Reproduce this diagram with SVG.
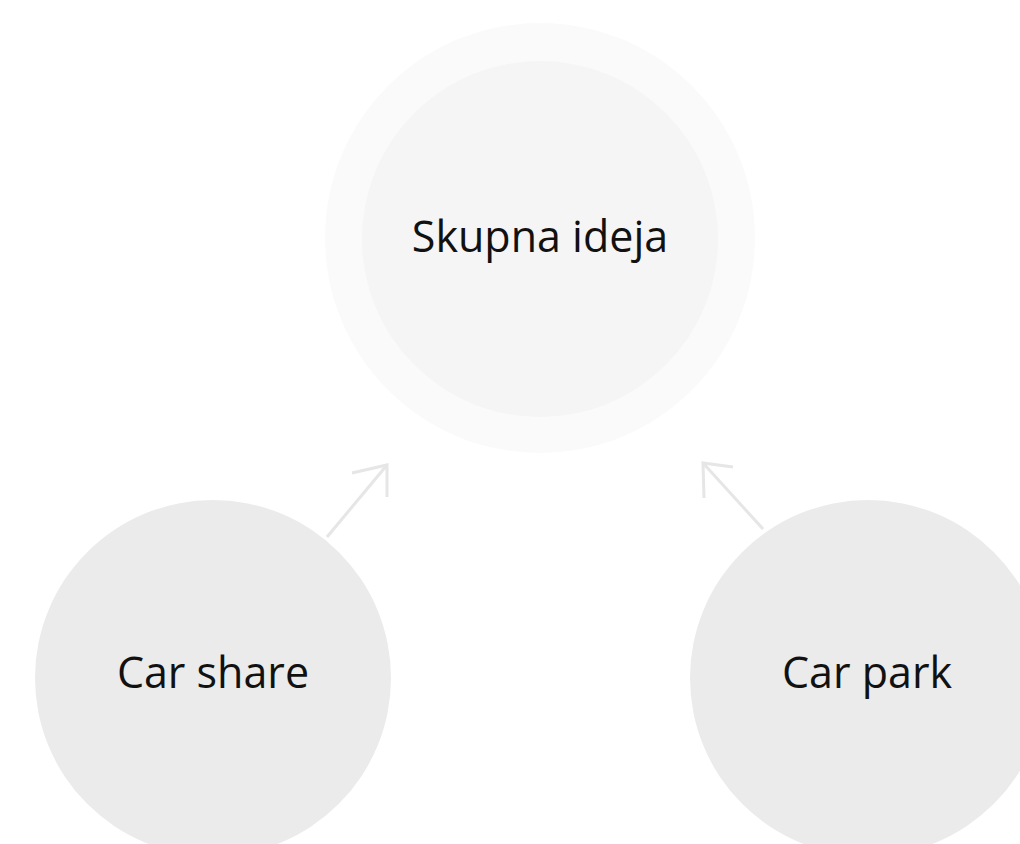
<svg xmlns="http://www.w3.org/2000/svg" width="1020" height="844" viewBox="0 0 1020 844">
<style>
.lbl{font-family:"Open Sans","Noto Sans","Liberation Sans",sans-serif;font-size:43px;fill:#111;text-anchor:middle}
.conn{fill:none;stroke:#e6e6e6;stroke-width:3;stroke-linecap:butt;stroke-linejoin:miter}
</style>
<rect width="1020" height="844" fill="#ffffff"/>
<g id="node-skupna">
<circle cx="540" cy="238" r="215" fill="#fafafa"/>
<circle cx="540" cy="239" r="178" fill="#f5f5f5"/>
<text class="lbl" x="540" y="252">Skupna ideja</text>
</g>
<g id="node-carshare">
<circle cx="213" cy="678" r="178" fill="#ebebeb"/>
<text class="lbl" x="213" y="688">Car share</text>
</g>
<g id="node-carpark">
<circle cx="868" cy="678" r="178" fill="#ebebeb"/>
<text class="lbl" x="867" y="688">Car park</text>
</g>
<g id="connectors">
<path class="conn" d="M327 537 L387 465"/>
<path class="conn" d="M352 473 L387 465 L387 497"/>
<path class="conn" d="M763 529 L703 463"/>
<path class="conn" d="M733 467 L703 463 L704 498"/>
</g>
</svg>
